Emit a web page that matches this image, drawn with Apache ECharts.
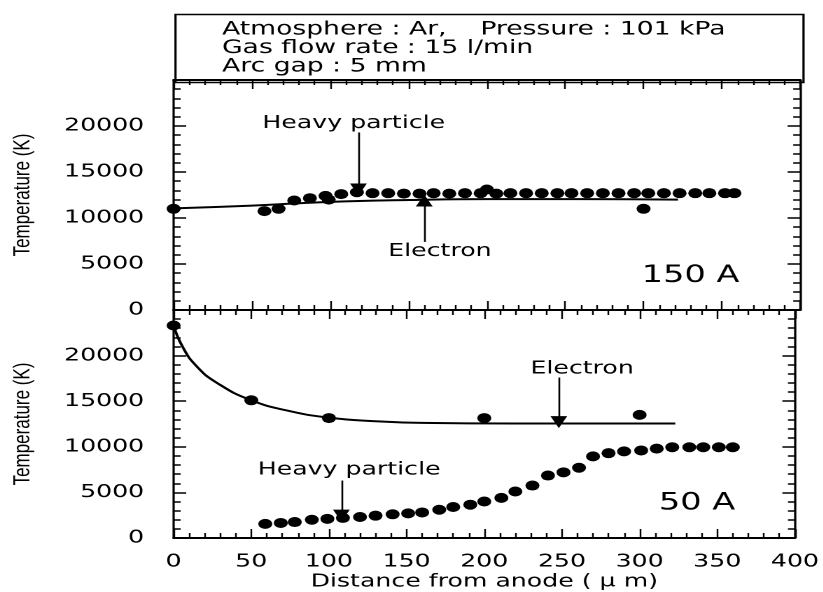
<!DOCTYPE html>
<html><head><meta charset="utf-8">
<script src="https://cdn.jsdelivr.net/npm/echarts@6/dist/echarts.min.js"></script>
<style>
html,body{margin:0;padding:0;background:#fff;overflow:hidden}
#c{width:588px;height:592px;transform:scale(1.4,1);transform-origin:0 0}
</style>
</head><body><div id="c"></div>
<script>
// ---- data ----
const conditions = ['Atmosphere : Ar,    Pressure : 101 kPa', 'Gas flow rate : 15 l/min', 'Arc gap : 5 mm'];
const xAxisTitle = 'Distance from anode ( \u03bc m)';
const yAxisTitle = 'Temperature (K)';

// 150 A panel
const heavy150 = [[58,10750],[67,11000],[77,11900],[87,12150],[97,12400],[99,12000],[107,12600],[117,12800],[127,12700],[137,12700],[147,12650],[157,12650],[166,12700],[176,12650],[186,12700],[196,12700],[206,12650],[215,12700],[225,12700],[235,12700],[245,12700],[254,12700],[264,12700],[274,12700],[284,12700],[294,12700],[303,12700],[313,12700],[323,12700],[333,12700],[342,12700],[352,12700],[358,12700]];
const electron150 = [[0,11000],[200,13100],[300,11000]];
const electronCurve150 = [[0,11050],[50,11350],[100,11750],[150,11950],[200,12050],[260,12050],[322,12000]];

// 50 A panel
const heavy50 = [[59,1550],[69,1650],[78,1750],[89,2000],[99,2100],[109,2200],[120,2300],[130,2450],[141,2600],[151,2700],[160,2800],[171,3100],[180,3400],[191,3650],[200,4000],[211,4400],[220,5100],[231,5750],[241,6850],[251,7200],[261,7700],[270,8950],[280,9300],[290,9500],[301,9600],[311,9800],[321,9950],[332,9950],[341,9950],[351,9950],[360,9950]];
const electron50 = [[0,23300],[50,15100],[100,13150],[200,13150],[300,13500]];
const electronCurve50 = [[0,23300],[6,20900],[15,18800],[28,17000],[50,15100],[75,13900],[100,13200],[130,12800],[160,12620],[220,12550],[323,12550]];

// annotations (data coordinates)
const arrows150 = [[118,19300,13100],[160,7400,11900]];
const notes150 = [['Heavy particle',115,20300,18],['Electron',170,6400,18],['150 A',330,3700,24]];
const arrows50 = [[108,6300,2450],[248,17600,12700]];
const notes50 = [['Heavy particle',113,7500,18],['Electron',263,18550,18],['50 A',337,3800,24]];

// ---- chart (drawn at 1/1.4 width, stretched horizontally by CSS like the scanned original) ----
const SX = 1.4;
const FONT = 'DejaVu Sans';
const black = '#000';
const L = 172 / SX, R = 23 / SX;
const grids = [{left:L, right:R, top:80, height:230}, {left:L, right:R, top:310, height:228}];

function xAx(grid, pos, labels) {
  return {
    type:'value', gridIndex:grid, position:pos, min:0, max:400, interval:50,
    axisLine:{show:true, onZero:false, lineStyle:{color:black, width:2}},
    axisTick:{show:true, inside:true, length:9, lineStyle:{color:black, width:1.2}},
    minorTick:{show:true, splitNumber:5, length:5, lineStyle:{color:black, width:1.2}},
    splitLine:{show:false}, minorSplitLine:{show:false},
    axisLabel:{show:labels, color:black, fontFamily:FONT, fontSize:18, margin:15},
    name: labels ? xAxisTitle : '', nameLocation:'middle', nameGap:35,
    nameTextStyle:{color:black, fontFamily:FONT, fontSize:18}
  };
}
function yAx(grid, pos, labels) {
  return {
    type:'value', gridIndex:grid, position:pos, min:0, max:25000, interval:5000,
    axisLine:{show:true, onZero:false, lineStyle:{color:black, width:1.6}},
    axisTick:{show:true, inside:true, length:9, lineStyle:{color:black, width:1.5}},
    minorTick:{show:true, splitNumber:5, length:5, lineStyle:{color:black, width:1.5}},
    splitLine:{show:false}, minorSplitLine:{show:false},
    axisLabel:{show:labels, color:black, fontFamily:FONT, fontSize:18, margin:21,
      formatter: v => v === 25000 ? '' : String(v)},
    name: labels ? yAxisTitle : '', nameLocation:'middle', nameGap:99, nameRotate:90,
    nameTextStyle:{color:black, fontFamily:'Liberation Sans', fontSize:17}
  };
}

function arrowLines(arr) {
  return {
    silent:true, symbol:['none','triangle'], symbolSize:12,
    label:{show:false}, lineStyle:{color:black, width:1.3, type:'solid', opacity:1},
    itemStyle:{color:black},
    emphasis:{disabled:true},
    data: arr.map(a => [{coord:[a[0], a[1]]}, {coord:[a[0], a[2]]}])
  };
}
function noteSeries(notes, xi, yi) {
  return {
    type:'scatter', xAxisIndex:xi, yAxisIndex:yi, symbolSize:0, silent:true,
    itemStyle:{opacity:1},
    data: notes.map(n => ({value:[n[1], n[2]],
      label:{show:true, position:'inside', formatter:n[0], color:black, fontFamily:FONT, fontSize:n[3]}}))
  };
}
const dot = {symbol:'circle', symbolSize:[10,10], itemStyle:{color:black, opacity:1}, silent:true};

const option = {
  animation:false,
  backgroundColor:'#fff',
  grid: grids,
  xAxis: [xAx(0,'bottom',false), xAx(0,'top',false), xAx(1,'bottom',true), xAx(1,'top',false)],
  yAxis: [yAx(0,'left',true), yAx(0,'right',false), yAx(1,'left',true), yAx(1,'right',false)],
  graphic: [
    {type:'rect', left:L, top:12, shape:{width:(823 - 172 - 23) / SX, height:68}, style:{fill:'none', stroke:black, lineWidth:1.6}, silent:true},
    ...conditions.map((t,i) => ({type:'text', left:222 / SX, top:20 + i*18.5, style:{text:t, fill:black, font:'19px "DejaVu Sans"'}, silent:true}))
  ],
  series: [
    {type:'line', xAxisIndex:0, yAxisIndex:0, data:electronCurve150, smooth:true, showSymbol:false, lineStyle:{color:black, width:2}, silent:true},
    Object.assign({type:'scatter', xAxisIndex:0, yAxisIndex:0, data:heavy150, markLine:arrowLines(arrows150)}, dot),
    Object.assign({type:'scatter', xAxisIndex:0, yAxisIndex:0, data:electron150}, dot),
    noteSeries(notes150, 0, 0),
    {type:'line', xAxisIndex:2, yAxisIndex:2, data:electronCurve50, smooth:0.5, showSymbol:false, lineStyle:{color:black, width:2}, silent:true},
    Object.assign({type:'scatter', xAxisIndex:2, yAxisIndex:2, data:heavy50, markLine:arrowLines(arrows50)}, dot),
    Object.assign({type:'scatter', xAxisIndex:2, yAxisIndex:2, data:electron50}, dot),
    noteSeries(notes50, 2, 2)
  ]
};
const chart = echarts.init(document.getElementById('c'), null, {devicePixelRatio:2});
chart.setOption(option);
</script></body></html>
